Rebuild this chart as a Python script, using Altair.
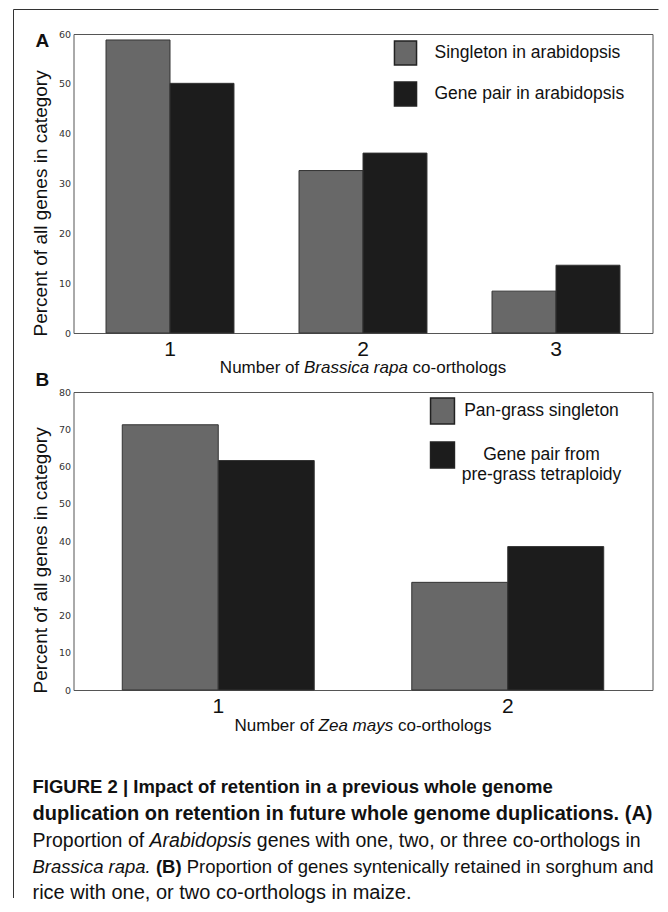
import altair as alt
import pandas as pd

# ---------------- data ----------------
a_categories = ["1", "2", "3"]
a_series = ["Singleton in arabidopsis", "Gene pair in arabidopsis"]
a_singleton = [58.8, 32.6, 8.4]
a_pair = [50.1, 36.1, 13.6]
a_yticks = [0, 10, 20, 30, 40, 50, 60]

b_categories = ["1", "2"]
b_series = ["Pan-grass singleton", "Gene pair from pre-grass tetraploidy"]
b_singleton = [71.2, 28.9]
b_pair = [61.6, 38.5]
b_yticks = [0, 10, 20, 30, 40, 50, 60, 70, 80]

y_title = "Percent of all genes in category"
a_xtitle = [("Number of ", "normal"), ("Brassica rapa", "italic"), (" co-orthologs", "normal")]
b_xtitle = [("Number of ", "normal"), ("Zea mays", "italic"), (" co-orthologs", "normal")]

# (runs, font size) per caption line; run = (text, weight, style)
caption = [
    ([("FIGURE 2 | Impact of retention in a previous whole genome", "bold", "normal")], 18.5),
    ([("duplication on retention in future whole genome duplications. (A)", "bold", "normal")], 20),
    ([("Proportion of ", "normal", "normal"), ("Arabidopsis", "normal", "italic"),
      (" genes with one, two, or three co-orthologs in", "normal", "normal")], 19.5),
    ([("Brassica rapa.", "normal", "italic"), (" ", "normal", "normal"), ("(B)", "bold", "normal"),
      (" Proportion of genes syntenically retained in sorghum and", "normal", "normal")], 18.5),
    ([("rice with one, or two co-orthologs in maize.", "normal", "normal")], 20),
]

GRAY = "#686868"
BLACK = "#1c1c1c"
FONT = "Liberation Sans"

# Arial-compatible advance widths (per 1000 em) used to place mixed-style text runs
REG = {" ": 278, "!": 278, "(": 333, ")": 333, ",": 278, "-": 333, ".": 278, "|": 260, ":": 278}
for d in "0123456789":
    REG[d] = 556
REG.update(dict(zip("ABCDEFGHIJKLMNOPQRSTUVWXYZ",
                    [667, 667, 722, 722, 667, 611, 778, 722, 278, 500, 667, 556, 833, 722, 778, 667, 778, 722, 667, 611, 722, 667, 944, 667, 667, 611])))
REG.update(dict(zip("abcdefghijklmnopqrstuvwxyz",
                    [556, 556, 500, 556, 556, 278, 556, 556, 222, 222, 500, 222, 833, 556, 556, 556, 556, 333, 500, 278, 556, 500, 722, 500, 500, 500])))
BOLD = dict(REG)
BOLD["|"] = 280
BOLD.update(dict(zip("ABCDEFGHIJKLMNOPQRSTUVWXYZ",
                     [722, 722, 722, 722, 667, 611, 778, 722, 278, 556, 722, 611, 833, 722, 778, 667, 778, 722, 667, 611, 722, 667, 944, 667, 667, 611])))
BOLD.update(dict(zip("abcdefghijklmnopqrstuvwxyz",
                     [556, 611, 556, 611, 556, 333, 611, 611, 278, 278, 556, 278, 889, 611, 611, 611, 611, 389, 556, 333, 611, 556, 778, 556, 556, 500])))


def text_width(s, size, weight="normal"):
    table = BOLD if weight == "bold" else REG
    return sum(table.get(c, 556) for c in s) * size / 1000.0


one = pd.DataFrame({"k": [0]})


def label(s, x, y, size, weight="normal", style="normal", align="left", baseline="middle"):
    return alt.Chart(one).mark_text(
        font=FONT, fontSize=size, fontWeight=weight, fontStyle=style, align=align,
        baseline=baseline, color="#111",
    ).encode(x=alt.value(x), y=alt.value(y), text=alt.value(s))


def run_layers(runs, x, y, size):
    """Place consecutive text runs (text, weight, style) left to right."""
    out = []
    for s, weight, style in runs:
        lead = s[: len(s) - len(s.lstrip(" "))]
        body = s.strip(" ")
        x0 = x + text_width(lead, size, weight)
        if body:
            out.append(label(body, x0, y, size, weight=weight, style=style))
        x += text_width(s, size, weight)
    return out


W = 579
HA = 299
HB = 298
XT_SIZE = 17


def xtitle_layers(runs, y):
    runs3 = [(s, "normal", st) for s, st in runs]
    total = sum(text_width(s, XT_SIZE) for s, _ in runs)
    return run_layers(runs3, W / 2 - total / 2, y, XT_SIZE)


def panel(cats, series, singleton, pair, yticks, height, legend):
    df = pd.DataFrame({
        "cat": cats * 2,
        "series": [series[0]] * len(cats) + [series[1]] * len(cats),
        "val": singleton + pair,
    })
    return alt.Chart(df).mark_bar(stroke="#333", strokeWidth=1).encode(
        x=alt.X("cat:N", sort=cats,
                scale=alt.Scale(paddingInner=0.337, paddingOuter=0.1685),
                axis=alt.Axis(title=None, labelAngle=0, labelFont=FONT, labelFontSize=21,
                              labelColor="#111", ticks=False, domain=False, labelPadding=5)),
        xOffset=alt.XOffset("series:N", sort=series,
                            scale=alt.Scale(paddingInner=0, paddingOuter=0)),
        y=alt.Y("val:Q", scale=alt.Scale(domain=[yticks[0], yticks[-1]], nice=False),
                axis=alt.Axis(values=yticks, title=y_title, titleFont=FONT, titleFontSize=19,
                              titleFontWeight="normal", titleColor="#111", titleAngle=270,
                              titleX=-27, titleY=height + 3, titleAlign="left",
                              titleBaseline="alphabetic", labelFont="DejaVu Sans",
                              labelFontSize=9.5, labelColor="#333", labelPadding=3,
                              ticks=False, domain=False, grid=False)),
        color=alt.Color("series:N", sort=series,
                        scale=alt.Scale(domain=series, range=[GRAY, BLACK]), legend=legend),
    ).properties(width=W, height=height)


legend_a = alt.Legend(title=None, orient="none", legendX=319, legendY=6,
                      symbolType="M-0.92,-1H0.92V1H-0.92Z", symbolSize=576,
                      symbolStrokeColor="#222", symbolStrokeWidth=1.5, symbolOpacity=1,
                      labelFont=FONT, labelFontSize=17.5, labelColor="#111", labelOffset=16,
                      rowPadding=11, padding=0, labelLimit=0)

legend_b = alt.Legend(title=None, orient="none", legendX=355, legendY=5,
                      symbolType="M-0.92,-1H0.92V1H-0.92Z", symbolSize=676,
                      symbolStrokeColor="#222", symbolStrokeWidth=1.5, symbolOpacity=1,
                      labelFont=FONT, labelFontSize=17.5, labelColor="#111", labelOffset=85,
                      labelAlign="center", rowPadding=12, padding=0, labelLimit=0,
                      labelExpr="datum.label == 'Gene pair from pre-grass tetraploidy' ? "
                                "['Gene pair from', 'pre-grass tetraploidy'] : datum.label")

bars_a = panel(a_categories, a_series, a_singleton, a_pair, a_yticks, HA, legend_a)
bars_b = panel(b_categories, b_series, b_singleton, b_pair, b_yticks, HB, legend_b)

# outer figure frame (top and left edges)
frame_top = alt.Chart(one).mark_rule(color="#333", strokeWidth=1).encode(
    x=alt.value(-60), x2=alt.value(585), y=alt.value(-24.5))
frame_left = alt.Chart(one).mark_rule(color="#333", strokeWidth=1).encode(
    x=alt.value(-60), y=alt.value(-24.5), y2=alt.value(864))

layers_a = [bars_a, frame_top, frame_left, label("A", -38, 7, 19, weight="bold")]
layers_a += xtitle_layers(a_xtitle, 334)

layers_b = [bars_b, label("B", -38, -12.5, 19, weight="bold")]
layers_b += xtitle_layers(b_xtitle, 334)

cap_y = [395, 422, 449, 475, 501]
for (runs, size), yy in zip(caption, cap_y):
    layers_b += run_layers(runs, -41, yy, size)

chart_a = alt.layer(*layers_a)
chart_b = alt.layer(*layers_b)

chart = alt.vconcat(chart_a, chart_b, spacing=59, bounds="flush").resolve_scale(
    x="independent", y="independent", color="independent", xOffset="independent"
).resolve_legend(color="independent").configure_view(
    stroke="#555", strokeWidth=1
).properties(padding={"left": 4.5, "top": 0, "right": 0, "bottom": 0})

chart.save("out.html", embed_options={"renderer": "svg", "actions": False})
